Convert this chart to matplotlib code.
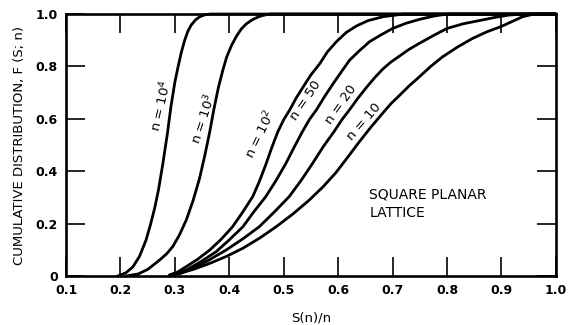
"""
Cumulative distribution F(S; n) vs S(n)/n for the square planar lattice
"""

import matplotlib
matplotlib.use("Agg")
import matplotlib.pyplot as plt

# curves, one (x, F) pair of lists per n
x_n1e4 = [0.195, 0.21, 0.223, 0.235, 0.247, 0.255, 0.263, 0.27, 0.278, 0.286, 0.293, 0.30, 0.306, 0.312, 0.318, 0.324, 0.33, 0.338, 0.346, 0.355, 0.365, 1.0]
f_n1e4 = [0.0, 0.012, 0.035, 0.075, 0.137, 0.195, 0.26, 0.33, 0.43, 0.54, 0.65, 0.74, 0.80, 0.855, 0.90, 0.935, 0.958, 0.978, 0.99, 0.997, 1.0, 1.0]

x_n1e3 = [0.21, 0.233, 0.25, 0.272, 0.285, 0.296, 0.308, 0.321, 0.333, 0.345, 0.355, 0.364, 0.372, 0.38, 0.388, 0.395, 0.404, 0.413, 0.422, 0.431, 0.442, 0.452, 0.462, 0.475, 1.0]
f_n1e3 = [0.0, 0.008, 0.025, 0.061, 0.085, 0.112, 0.155, 0.214, 0.285, 0.37, 0.46, 0.55, 0.64, 0.72, 0.785, 0.835, 0.88, 0.915, 0.943, 0.962, 0.978, 0.988, 0.995, 1.0, 1.0]

x_n1e2 = [0.29, 0.305, 0.321, 0.342, 0.364, 0.385, 0.406, 0.425, 0.443, 0.455, 0.467, 0.478, 0.489, 0.50, 0.511, 0.523, 0.536, 0.55, 0.566, 0.58, 0.597, 0.615, 0.634, 0.655, 0.683, 0.72, 1.0]
f_n1e2 = [0.004, 0.015, 0.036, 0.064, 0.099, 0.14, 0.188, 0.245, 0.303, 0.36, 0.425, 0.49, 0.55, 0.597, 0.634, 0.68, 0.723, 0.768, 0.81, 0.855, 0.895, 0.93, 0.955, 0.975, 0.99, 1.0, 1.0]

x_n50 = [0.29, 0.305, 0.321, 0.348, 0.376, 0.40, 0.425, 0.445, 0.467, 0.486, 0.504, 0.52, 0.534, 0.547, 0.56, 0.575, 0.591, 0.606, 0.621, 0.64, 0.658, 0.68, 0.70, 0.725, 0.75, 0.775, 0.80, 1.0]
f_n50 = [0.002, 0.01, 0.023, 0.055, 0.093, 0.138, 0.188, 0.245, 0.303, 0.365, 0.43, 0.495, 0.55, 0.597, 0.634, 0.685, 0.735, 0.78, 0.824, 0.862, 0.895, 0.922, 0.945, 0.965, 0.98, 0.992, 1.0, 1.0]

x_n20 = [0.29, 0.31, 0.333, 0.362, 0.394, 0.425, 0.455, 0.483, 0.51, 0.532, 0.553, 0.573, 0.592, 0.607, 0.621, 0.636, 0.652, 0.667, 0.682, 0.697, 0.713, 0.73, 0.749, 0.775, 0.80, 0.83, 0.864, 0.89, 0.913, 0.935, 0.955, 1.0]
f_n20 = [0.001, 0.01, 0.029, 0.06, 0.099, 0.142, 0.188, 0.245, 0.303, 0.365, 0.43, 0.495, 0.55, 0.597, 0.635, 0.678, 0.72, 0.757, 0.79, 0.817, 0.84, 0.865, 0.888, 0.918, 0.945, 0.963, 0.977, 0.988, 0.996, 0.999, 1.0, 1.0]

x_n10 = [0.29, 0.309, 0.335, 0.364, 0.395, 0.425, 0.456, 0.486, 0.517, 0.547, 0.572, 0.596, 0.617, 0.638, 0.66, 0.682, 0.697, 0.713, 0.73, 0.749, 0.77, 0.792, 0.82, 0.847, 0.873, 0.899, 0.92, 0.939, 0.96, 1.0]
f_n10 = [0.0, 0.01, 0.026, 0.048, 0.075, 0.106, 0.145, 0.188, 0.237, 0.29, 0.34, 0.395, 0.452, 0.51, 0.568, 0.622, 0.658, 0.69, 0.725, 0.76, 0.8, 0.837, 0.875, 0.907, 0.932, 0.952, 0.972, 0.99, 1.0, 1.0]

curves = [(x_n1e4, f_n1e4), (x_n1e3, f_n1e3), (x_n1e2, f_n1e2),
          (x_n50, f_n50), (x_n20, f_n20), (x_n10, f_n10)]

# curve labels: text, x, y, rotation
labels = [("n = 10$^4$", 0.275, 0.65, 77),
          ("n = 10$^3$", 0.353, 0.60, 72),
          ("n = 10$^2$", 0.457, 0.54, 64),
          ("n = 50", 0.54, 0.67, 56),
          ("n = 20", 0.605, 0.655, 55),
          ("n = 10", 0.648, 0.59, 49)]

xticks = [0.1, 0.2, 0.3, 0.4, 0.5, 0.6, 0.7, 0.8, 0.9, 1.0]
xticklabels = ["0.1", "0.2", "0.3", "0.4", "0.5", "0.6", "0.7", "0.8", "0.9", "1.0"]
yticks = [0.0, 0.2, 0.4, 0.6, 0.8, 1.0]
yticklabels = ["0", "0.2", "0.4", "0.6", "0.8", "1.0"]

fig = plt.figure(figsize=(5.75, 3.25), dpi=100)
ax = fig.add_axes([0.1148, 0.1508, 0.852, 0.806])

for xs, fs in curves:
    ax.plot(xs, fs, color="black", lw=2.0, solid_capstyle="round",
            solid_joinstyle="round", clip_on=False)

for txt, lx, ly, rot in labels:
    ax.text(lx, ly, txt, rotation=rot, ha="center", va="center",
            fontsize=9.5, rotation_mode="anchor")

ax.text(0.657, 0.275, "SQUARE PLANAR\nLATTICE", ha="left", va="center",
        fontsize=10, linespacing=1.45)

ax.set_xlim(0.1, 1.0)
ax.set_ylim(0.0, 1.0)
ax.set_xticks(xticks)
ax.set_xticklabels(xticklabels, fontweight="bold", fontsize=9)
ax.set_yticks(yticks)
ax.set_yticklabels(yticklabels, fontweight="bold", fontsize=9)
ax.tick_params(direction="in", length=14, width=1.2, top=True, right=True, pad=6)

for sp in ax.spines.values():
    sp.set_linewidth(1.9)

ax.set_xlabel("S(n)/n", fontsize=9.5, labelpad=10)
ax.set_ylabel("CUMULATIVE DISTRIBUTION, F (S; n)", fontsize=9.5, labelpad=7)

fig.savefig("out.png", dpi=100)
